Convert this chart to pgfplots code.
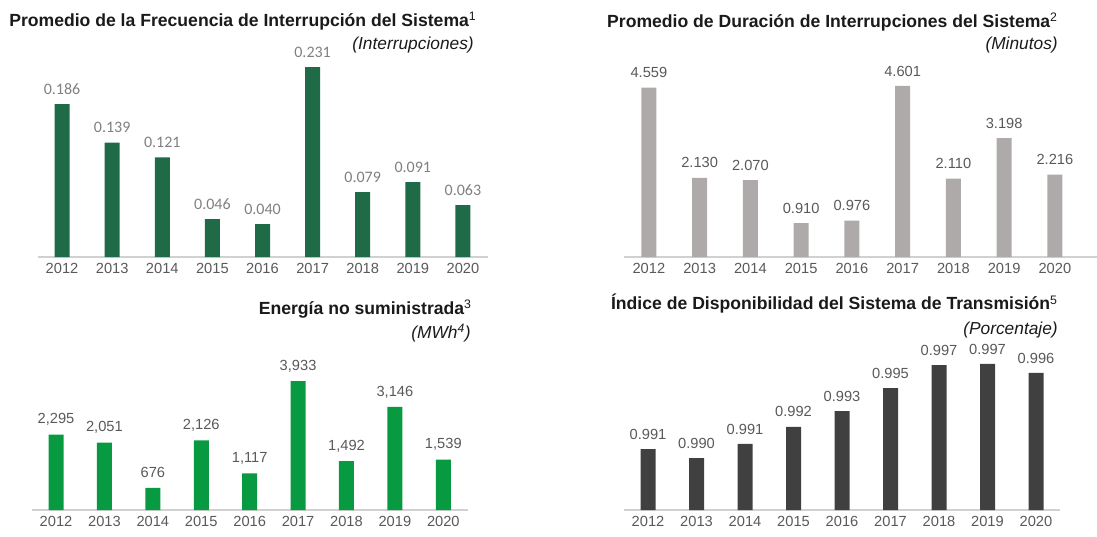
\documentclass[border=0pt]{standalone}
\usepackage{pgfplots}
\pgfplotsset{compat=1.18}
\usepackage{fontspec}
\setmainfont{Liberation Sans}
\newfontfamily\carl{Carlito}
\definecolor{gdark}{HTML}{1F6B47}
\definecolor{glight}{HTML}{089A40}
\definecolor{gbar}{HTML}{AEAAAA}
\definecolor{dbar}{HTML}{404040}
\definecolor{lbl}{HTML}{595959}
\definecolor{lbl1}{HTML}{808080}
\definecolor{ttl}{HTML}{1A1A1A}
\def\px{0.75pt}
\pgfplotsset{
  barpanel/.style={
    scale only axis,
    axis x line=bottom, axis y line=none,
    x axis line style={-, draw=black!18, line width=0.9pt},
    xtick={0,...,8},
    xticklabels={2012,2013,2014,2015,2016,2017,2018,2019,2020},
    major tick length=0pt,
    ytick=\empty,
    x tick label style={font=\fontsize{11}{12}\selectfont, text=lbl, yshift=-1.5pt},
    ymin=0,
    clip=false,
    nodes near coords,
    point meta=explicit symbolic,
    every node near coord/.append style={anchor=center, yshift=11.25pt, font=\fontsize{11}{12}\selectfont, text=lbl, inner sep=0pt},
  }
}
\tikzset{ttlb/.style={inner sep=0pt, text=ttl, font=\bfseries\fontsize{13.2}{15}\selectfont},
         ttli/.style={anchor=east, inner sep=0pt, text=ttl, font=\itshape\fontsize{13}{15}\selectfont}}
\begin{document}
\begin{tikzpicture}
\useasboundingbox (0,0) rectangle ({1097*\px},{-536*\px});
% Panel 1
\begin{axis}[barpanel, anchor=south west, at={({38*\px},{-257*\px})},
  width={450*\px}, height={200*\px}, xmin=-0.48, xmax=8.5, ymax=0.2432,
  every node near coord/.append style={font=\carl\fontsize{12}{13}\selectfont, text=lbl1}]
\addplot[ybar, bar width={15*\px}, fill=gdark, draw=none] table[meta=l] {
x y l
0 0.186 0.186
1 0.139 0.139
2 0.121 0.121
3 0.046 0.046
4 0.040 0.040
5 0.231 0.231
6 0.079 0.079
7 0.091 0.091
8 0.063 0.063
};
\end{axis}
% Panel 2
\begin{axis}[barpanel, anchor=south west, at={({624*\px},{-257*\px})},
  width={473*\px}, height={200*\px}, xmin=-0.49, xmax=8.83, ymax=5.381]
\addplot[ybar, bar width={15*\px}, fill=gbar, draw=none] table[meta=l] {
x y l
0 4.559 4.559
1 2.130 2.130
2 2.070 2.070
3 0.910 0.910
4 0.976 0.976
5 4.601 4.601
6 2.110 2.110
7 3.198 3.198
8 2.216 2.216
};
\end{axis}
% Panel 3
\begin{axis}[barpanel, anchor=south west, at={({32*\px},{-510*\px})},
  width={436*\px}, height={200*\px}, xmin=-0.496, xmax=8.51, ymax=6098]
\addplot[ybar, bar width={15*\px}, fill=glight, draw=none] table[meta=l] {
x y l
0 2295 2,295
1 2051 2,051
2 676 676
3 2126 2,126
4 1117 1,117
5 3933 3,933
6 1492 1,492
7 3146 3,146
8 1539 1,539
};
\end{axis}
% Panel 4
\begin{axis}[barpanel, anchor=south west, at={({624*\px},{-510*\px})},
  width={436*\px}, height={200*\px}, xmin=-0.495, xmax=8.495, ymin=0.986, ymax=1.00105]
\addplot[ybar, bar width={15*\px}, fill=dbar, draw=none, bar shift=0pt] table[meta=l] {
x y l
0 0.99059 0.991
1 0.98991 0.990
2 0.99097 0.991
3 0.99225 0.992
4 0.99345 0.993
5 0.99518 0.995
6 0.99691 0.997
7 0.99699 0.997
8 0.99631 0.996
};
\end{axis}
% Titles
\node[ttlb, anchor=west] at ({9*\px},{-21*\px}) {Promedio de la Frecuencia de Interrupción del Sistema\textsuperscript{\mdseries 1}};
\node[ttli] at ({474*\px},{-45*\px}) {(Interrupciones)};
\node[ttlb, anchor=east] at ({1058*\px},{-22*\px}) {Promedio de Duración de Interrupciones del Sistema\textsuperscript{\mdseries 2}};
\node[ttli] at ({1058*\px},{-45*\px}) {(Minutos)};
\node[ttlb, anchor=east] at ({472*\px},{-309*\px}) {Energía no suministrada\textsuperscript{\mdseries 3}};
\node[ttli] at ({471*\px},{-333*\px}) {(MWh\textsuperscript{4})};
\node[ttlb, anchor=east] at ({1058*\px},{-304*\px}) {Índice de Disponibilidad del Sistema de Transmisión\textsuperscript{\mdseries 5}};
\node[ttli] at ({1058*\px},{-330*\px}) {(Porcentaje)};
\end{tikzpicture}
\end{document}
